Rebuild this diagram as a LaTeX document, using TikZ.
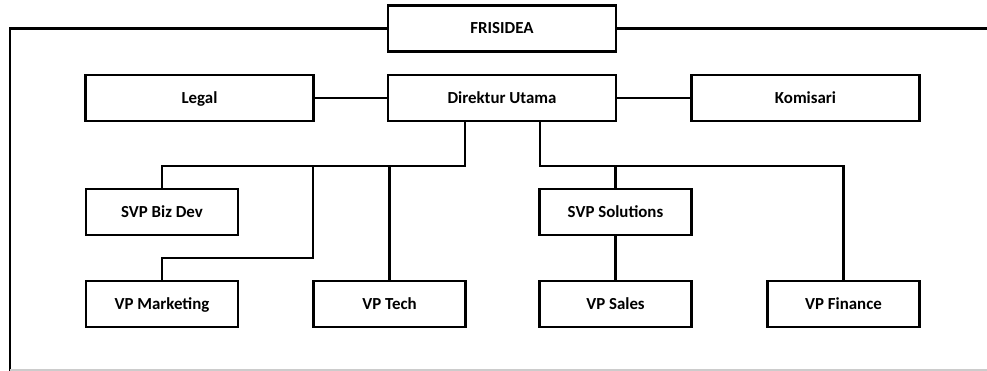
\documentclass[tikz,border=0pt]{standalone}
\usepackage{fontspec}
\setmainfont{Carlito}
\usetikzlibrary{positioning}

\begin{document}
\begin{tikzpicture}[x=0.02cm, y=-0.02cm,
	wide/.style = {draw, line width=1.4pt, minimum width=4.56cm, minimum height=0.92cm, text height=1.5ex, text depth=.3ex, font=\fontsize{9.6}{11}\selectfont\bfseries},
	small/.style = {wide, minimum width=3.04cm},
	link/.style = {line width=1.4pt}]
	
	\useasboundingbox (0,0) rectangle (987,371);
	
	% top row
	\node[wide] (frisidea) at (502,28.5) {FRISIDEA};
	
	% second row
	\node[wide] (direktur) at (502,98) {Direktur Utama};
	\node[wide] (legal) at (199.5,98) {Legal};
	\node[wide] (komisari) at (805.5,98) {Komisari};
	
	% senior vp
	\node[small] (bizdev) at (162,212) {SVP Biz Dev};
	\node[small] (solutions) at (615.5,212) {SVP Solutions};
	
	% vp
	\node[small] (marketing) at (162,304) {VP Marketing};
	\node[small] (tech) at (389.5,304) {VP Tech};
	\node[small] (sales) at (615.5,304) {VP Sales};
	\node[small] (finance) at (843.5,304) {VP Finance};
	
	% frame lines
	\coordinate (leftend) at (10,371);
	\coordinate (rightend) at (987,28.5);
	\draw[link] (frisidea.west) -| (leftend);
	\draw[link] (frisidea.east) -- (rightend);
	\draw[gray!40, line width=0.6pt] (10,370) -- (987,370);
	
	\draw[link] (legal) -- (direktur);
	\draw[link] (direktur) -- (komisari);
	
	% left branch
	\coordinate (lbus) at (465,166);
	\draw[link] (direktur.south -| lbus) -- (lbus) -| (bizdev.north);
	\draw[link] (313,166) -- (313,258) -| (marketing.north);
	\draw[link] (tech.north |- lbus) -- (tech.north);
	
	% right branch
	\coordinate (rbus) at (540,166);
	\draw[link] (direktur.south -| rbus) -- (rbus) -| (finance.north);
	\draw[link] (solutions.north |- rbus) -- (solutions.north);
	\draw[link] (solutions) -- (sales);
	
\end{tikzpicture}
\end{document}
